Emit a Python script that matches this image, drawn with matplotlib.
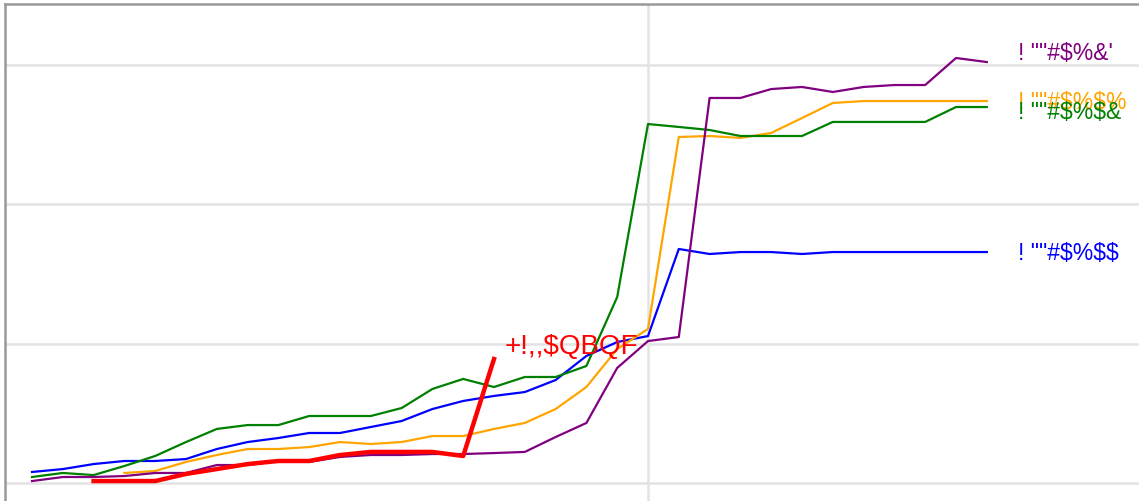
import matplotlib
matplotlib.use("Agg")
import matplotlib.pyplot as plt

# step index along the x axis
steps = list(range(32))

# series values (grid units)
purple_vals = [0.014, 0.043, 0.043, 0.050, 0.072, 0.072, 0.129, 0.129, 0.158, 0.151,
               0.187, 0.201, 0.201, 0.208, 0.208, 0.215, 0.223, 0.330, 0.431, 0.826,
               1.019, 1.048, 2.764, 2.764, 2.828, 2.843, 2.807, 2.843, 2.857, 2.857,
               3.051, 3.022]
orange_vals = [0.072, 0.086, 0.151, 0.201, 0.244, 0.244, 0.258, 0.294, 0.280, 0.294,
               0.337, 0.337, 0.388, 0.431, 0.531, 0.689, 0.962, 1.106, 2.484, 2.491,
               2.477, 2.513, 2.620, 2.728, 2.742, 2.742, 2.742, 2.742, 2.742]
green_vals = [0.043, 0.072, 0.057, 0.122, 0.194, 0.294, 0.388, 0.416, 0.416, 0.481,
              0.481, 0.481, 0.538, 0.675, 0.747, 0.689, 0.761, 0.761, 0.840, 1.335,
              2.577, 2.556, 2.534, 2.491, 2.491, 2.491, 2.592, 2.592, 2.592, 2.592,
              2.699, 2.699]
blue_vals = [0.079, 0.100, 0.136, 0.158, 0.158, 0.172, 0.244, 0.294, 0.323, 0.359,
             0.359, 0.402, 0.445, 0.531, 0.589, 0.625, 0.653, 0.739, 0.912, 1.012,
             1.055, 1.680, 1.644, 1.658, 1.658, 1.644, 1.658, 1.658, 1.658, 1.658,
             1.658, 1.658]
red_vals = [0.014, 0.014, 0.014, 0.065, 0.100, 0.136, 0.158, 0.158, 0.201, 0.223,
            0.223, 0.223, 0.194, 0.890]

orange_start = 3
red_start = 2

purple_label = "! \"\"#$%&'"
orange_label = "! \"\"#$%$%"
green_label = "! \"\"#$%$&"
blue_label = "! \"\"#$%$$"
red_label = "+!,,$QBQF"

W, H = 1139, 502
fig = plt.figure(figsize=(W / 100, H / 100), dpi=100)
# axes runs off the right and bottom edges of the picture
ax = fig.add_axes([5 / W, 1 - 515 / H, 1150 / W, 510 / H])
ax.set_xlim((5 - 32) / 30.8, (1155 - 32) / 30.8)
ax.set_ylim((484 - 515) / 139.3, (484 - 5) / 139.3)

ax.set_yticks([0, 1, 2, 3])
ax.set_xticks([20])
ax.tick_params(length=0, labelleft=False, labelbottom=False)
ax.grid(True, color="#e3e3e3", linewidth=1.8)
ax.set_axisbelow(True)
for side in ["right", "bottom"]:
    ax.spines[side].set_visible(False)
for side in ["left", "top"]:
    ax.spines[side].set_color("#999999")
    ax.spines[side].set_linewidth(1.8)

ax.plot(steps, blue_vals, color="blue", lw=1.6)
ax.plot(steps[orange_start:], orange_vals, color="orange", lw=1.6)
ax.plot(steps, green_vals, color="green", lw=1.6)
ax.plot(steps, purple_vals, color="purple", lw=1.6)
ax.plot(steps[red_start:red_start + len(red_vals)], red_vals, color="red", lw=3.2)

fam = ["Liberation Sans", "DejaVu Sans"]
lx = steps[-1] + 1
ax.text(lx, 3.094, purple_label, color="purple", fontsize=16.5, family=fam,
        va="center", parse_math=False)
ax.text(lx, 2.742, orange_label, color="orange", fontsize=16.5, family=fam,
        va="center", parse_math=False)
ax.text(lx, 2.67, green_label, color="green", fontsize=16.5, family=fam,
        va="center", parse_math=False)
ax.text(lx, 1.658, blue_label, color="blue", fontsize=16.5, family=fam,
        va="center", parse_math=False)
ax.text(15.35, 0.98, red_label, color="red", fontsize=20, family=fam,
        va="center", parse_math=False)

fig.savefig("out.png", dpi=100)
